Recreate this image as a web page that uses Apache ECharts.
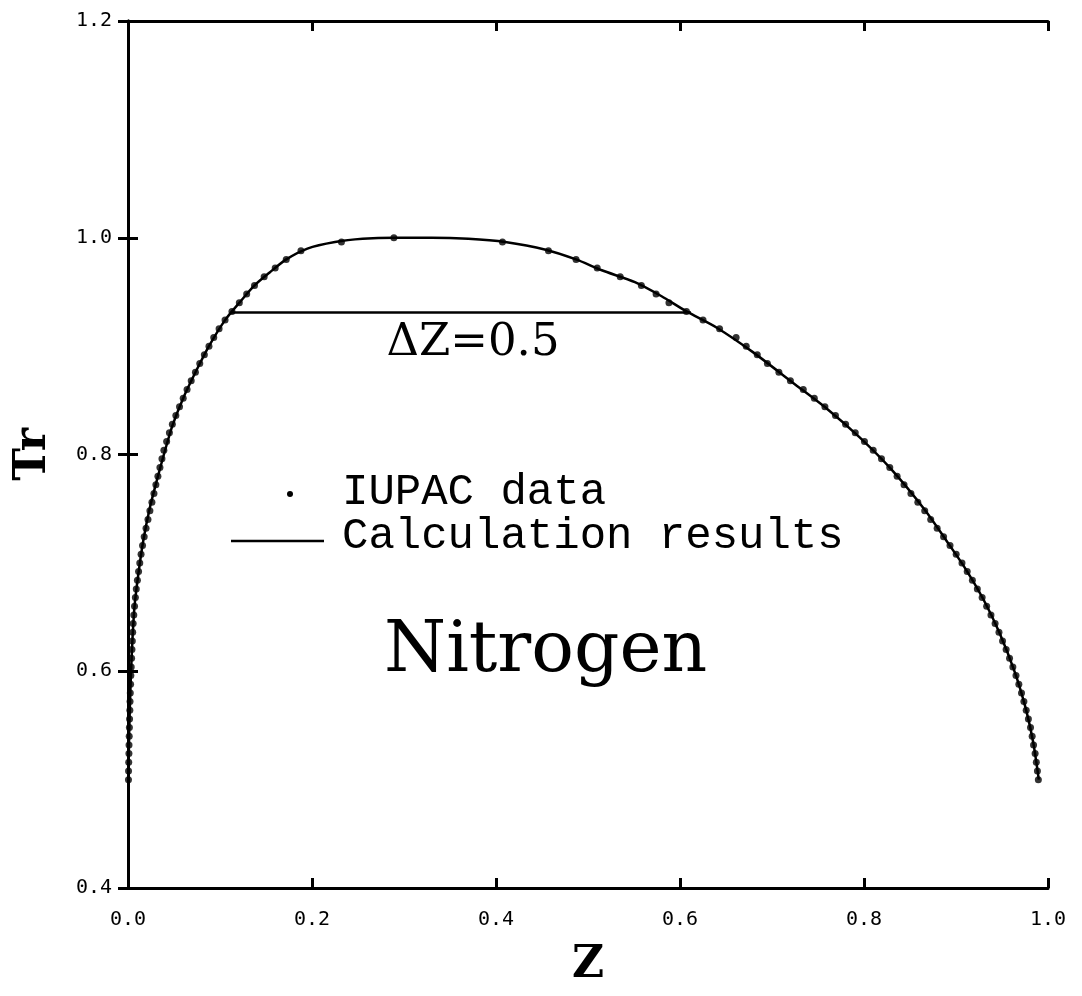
<!DOCTYPE html>
<html>
<head>
<meta charset="utf-8">
<title>Nitrogen — Tr vs Z</title>
<script src="https://cdn.jsdelivr.net/npm/echarts@6/dist/echarts.min.js"></script>
<style>
  html, body { margin: 0; padding: 0; background: #ffffff; }
  #chart { width: 1082px; height: 996px; }
</style>
</head>
<body>
<div id="chart"></div>
<script>
// Reduced temperatures of the IUPAC saturation data
const trLevels = [
  0.500, 0.508, 0.516, 0.524, 0.532, 0.540, 0.548, 0.556, 0.564, 0.572,
  0.580, 0.588, 0.596, 0.604, 0.612, 0.620, 0.628, 0.636, 0.644, 0.652,
  0.660, 0.668, 0.676, 0.684, 0.692, 0.700, 0.708, 0.716, 0.724, 0.732,
  0.740, 0.748, 0.756, 0.764, 0.772, 0.780, 0.788, 0.796, 0.804, 0.812,
  0.820, 0.828, 0.836, 0.844, 0.852, 0.860, 0.868, 0.876, 0.884, 0.892,
  0.900, 0.908, 0.916, 0.924, 0.932, 0.940, 0.948, 0.956, 0.964, 0.972,
  0.980, 0.988, 0.996
];

// Saturated liquid compressibility factor at each level
const zLiquid = [
  0.0005, 0.0006, 0.0008, 0.0010, 0.0011, 0.0013, 0.0015, 0.0017, 0.0020, 0.0022,
  0.0025, 0.0028, 0.0031, 0.0035, 0.0039, 0.0043, 0.0047, 0.0051, 0.0056, 0.0063,
  0.0071, 0.0080, 0.0090, 0.0102, 0.0115, 0.0128, 0.0142, 0.0158, 0.0176, 0.0196,
  0.0217, 0.0238, 0.0260, 0.0282, 0.0303, 0.0325, 0.0347, 0.0369, 0.0390, 0.0420,
  0.0450, 0.0482, 0.0520, 0.0560, 0.0600, 0.0642, 0.0687, 0.0733, 0.0780, 0.0830,
  0.0880, 0.0932, 0.0990, 0.1055, 0.1130, 0.1210, 0.1290, 0.1375, 0.1480, 0.1600,
  0.1720, 0.1880, 0.2320
];

// Saturated vapour compressibility factor at each level
const zVapor = [
  0.9895, 0.9885, 0.9873, 0.9860, 0.9843, 0.9828, 0.9810, 0.9787, 0.9763, 0.9738,
  0.9712, 0.9683, 0.9652, 0.9618, 0.9582, 0.9545, 0.9506, 0.9467, 0.9425, 0.9380,
  0.9333, 0.9284, 0.9232, 0.9178, 0.9122, 0.9065, 0.9002, 0.8935, 0.8865, 0.8795,
  0.8725, 0.8660, 0.8585, 0.8510, 0.8435, 0.8360, 0.8280, 0.8190, 0.8100, 0.8005,
  0.7905, 0.7800, 0.7690, 0.7575, 0.7460, 0.7340, 0.7200, 0.7075, 0.6950, 0.6840,
  0.6720, 0.6610, 0.6430, 0.6250, 0.6070, 0.5880, 0.5740, 0.5580, 0.5350, 0.5100,
  0.4870, 0.4570, 0.4070
];

// Critical point [Z, Tr]
const criticalPoint = [0.289, 1.000];

// Calculated coexistence curve, liquid side through the critical point to the vapour side
const calcZ = [
  0.0004, 0.0012, 0.0025, 0.0043, 0.0071, 0.0113, 0.0165, 0.0235, 0.0310, 0.0390,
  0.0480, 0.0600, 0.0740, 0.0880, 0.1055, 0.1210, 0.1375, 0.1540, 0.1720, 0.1950,
  0.2250, 0.2550, 0.2900, 0.3300, 0.3700, 0.4100, 0.4540, 0.4870, 0.5150, 0.5510,
  0.5800, 0.6070, 0.6400, 0.6800, 0.7230, 0.7600, 0.7950, 0.8300, 0.8660, 0.8900,
  0.9100, 0.9300, 0.9470, 0.9640, 0.9760, 0.9840, 0.9900
];
const calcTr = [
  0.500, 0.540, 0.580, 0.620, 0.660, 0.690, 0.720, 0.750, 0.775, 0.800,
  0.826, 0.852, 0.877, 0.900, 0.924, 0.940, 0.956, 0.968, 0.980, 0.990,
  0.996, 0.999, 1.000, 1.000, 0.999, 0.996, 0.989, 0.980, 0.970, 0.959,
  0.946, 0.932, 0.917, 0.894, 0.866, 0.842, 0.816, 0.786, 0.749, 0.720,
  0.695, 0.666, 0.636, 0.599, 0.565, 0.534, 0.500
];

// Tie line of width deltaZ at a fixed reduced temperature
const deltaZ = 0.5;
const tieStartZ = 0.112;
const tieTr = 0.931;

// Axis tick values
const xTicks = [0.0, 0.2, 0.4, 0.6, 0.8, 1.0];
const yTicks = [0.4, 0.6, 0.8, 1.0, 1.2];

const iupacPoints = trLevels.map((t, i) => [zLiquid[i], t])
  .concat([criticalPoint])
  .concat(trLevels.map((t, i) => [zVapor[i], t]));
const calcPoints = calcZ.map((z, i) => [z, calcTr[i]]);
const tiePoints = [[tieStartZ, tieTr], [tieStartZ + deltaZ, tieTr]];

const INK = '#000000';
const frameLine = { show: true, lineStyle: { color: INK, width: 3 } };
const innerTick = { show: true, inside: true, length: 10, lineStyle: { color: INK, width: 3 } };
const tickFont = { fontFamily: 'DejaVu Sans Mono', fontSize: 20, color: INK };

const chart = echarts.init(document.getElementById('chart'), null, { renderer: 'canvas' });

chart.setOption({
  backgroundColor: '#ffffff',
  animation: false,
  grid: { left: 128, right: 34, top: 21, bottom: 108, containLabel: false },
  xAxis: [
    {
      type: 'value', position: 'bottom',
      min: xTicks[0], max: xTicks[xTicks.length - 1], interval: 0.2,
      axisLine: frameLine, axisTick: innerTick, splitLine: { show: false },
      axisLabel: Object.assign({ margin: 22, formatter: v => v.toFixed(1) }, tickFont),
      name: 'Z', nameLocation: 'middle', nameGap: 56,
      nameTextStyle: { fontFamily: 'DejaVu Serif', fontWeight: 'bold', fontSize: 44, color: INK }
    },
    {
      type: 'value', position: 'top',
      min: xTicks[0], max: xTicks[xTicks.length - 1], interval: 0.2,
      axisLine: frameLine, axisTick: innerTick, splitLine: { show: false },
      axisLabel: { show: false }
    }
  ],
  yAxis: [
    {
      type: 'value', position: 'left',
      min: yTicks[0], max: yTicks[yTicks.length - 1], interval: 0.2,
      axisLine: frameLine, axisTick: innerTick, splitLine: { show: false },
      axisLabel: Object.assign({ margin: 16, formatter: v => v.toFixed(1) }, tickFont),
      name: 'Tr', nameLocation: 'middle', nameRotate: 90, nameGap: 72,
      nameTextStyle: { fontFamily: 'DejaVu Serif', fontWeight: 'bold', fontSize: 44, color: INK }
    },
    {
      type: 'value', position: 'right',
      min: yTicks[0], max: yTicks[yTicks.length - 1], interval: 0.2,
      axisLine: frameLine, axisTick: innerTick, splitLine: { show: false },
      axisLabel: { show: false }
    }
  ],
  series: [
    {
      name: 'Calculation results', type: 'line', data: calcPoints,
      showSymbol: false, smooth: 0.25,
      lineStyle: { color: INK, width: 2.5 }, z: 2, silent: true
    },
    {
      name: 'ΔZ', type: 'line', data: tiePoints,
      showSymbol: false, lineStyle: { color: INK, width: 2.5 }, z: 2, silent: true
    },
    {
      name: 'IUPAC data', type: 'scatter', data: iupacPoints,
      symbol: 'circle', symbolSize: 7,
      itemStyle: { color: INK }, z: 3, silent: true
    }
  ],
  graphic: [
    // tie line label
    {
      type: 'text', x: 473, y: 343,
      style: { text: 'ΔZ=0.5', fontFamily: 'DejaVu Serif', fontSize: 45, fill: INK, align: 'center', verticalAlign: 'middle' }
    },
    // substance name
    {
      type: 'text', x: 384, y: 653,
      style: { text: 'Nitrogen', fontFamily: 'DejaVu Serif', fontSize: 71, fill: INK, align: 'left', verticalAlign: 'middle' }
    },
    // key: data points
    {
      type: 'circle', shape: { cx: 290, cy: 494, r: 3 }, style: { fill: INK }
    },
    {
      type: 'text', x: 342, y: 492,
      style: { text: 'IUPAC data', fontFamily: 'Liberation Mono', fontSize: 44, fill: INK, align: 'left', verticalAlign: 'middle' }
    },
    // key: calculated curve
    {
      type: 'line', shape: { x1: 231, y1: 541, x2: 324, y2: 541 }, style: { stroke: INK, lineWidth: 2.5 }
    },
    {
      type: 'text', x: 342, y: 536,
      style: { text: 'Calculation results', fontFamily: 'Liberation Mono', fontSize: 44, fill: INK, align: 'left', verticalAlign: 'middle' }
    }
  ]
});
</script>
</body>
</html>
